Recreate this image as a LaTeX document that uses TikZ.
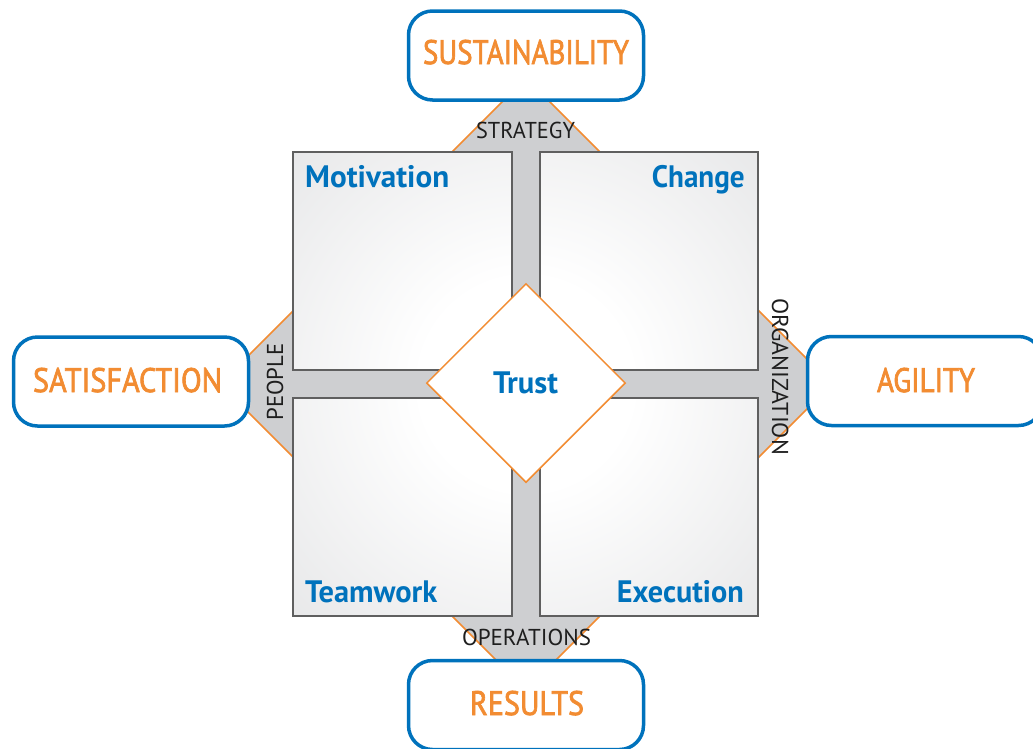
\documentclass[tikz,border=0pt]{standalone}
\usepackage{fontspec}
\usepackage{graphicx}
\setmainfont{PT Sans}
\newfontfamily\goalfont[FakeBold=2.2]{PT Sans}
\usetikzlibrary{shapes.geometric}
\definecolor{cblue}{RGB}{0,114,188}
\definecolor{corange}{RGB}{242,140,50}
\definecolor{bandgray}{RGB}{206,207,209}
\definecolor{sqgray}{RGB}{198,199,202}
\definecolor{sqedge}{RGB}{95,95,95}
\definecolor{txtdark}{RGB}{30,30,30}
\pgfdeclareradialshading{sqshade}{\pgfpoint{0bp}{0bp}}{color(0bp)=(white); color(8bp)=(white); color(50bp)=(sqgray)}
\newcommand{\fitw}[2]{\resizebox{#1pt}{\height}{#2}}
\tikzset{
  goalbox/.style={draw=cblue, line width=3.5pt, fill=white, rounded corners=24pt,
    minimum width=235pt, minimum height=89pt, inner sep=0pt},
  goaltext/.style={text=corange, font=\goalfont\fontsize{34}{34}\selectfont, inner sep=0pt, anchor=base},
  areatext/.style={text=cblue, font=\fontsize{31}{31}\selectfont\bfseries, inner sep=0pt},
  axistext/.style={text=txtdark, font=\fontsize{23}{23}\selectfont, inner sep=0pt, anchor=base},
  quad/.style={draw=sqedge, line width=1.6pt},
}
\begin{document}
\begin{tikzpicture}[x=1pt,y=-1pt]
\useasboundingbox (0,0) rectangle (1033,748);
% big background diamond
\coordinate (c) at (526,384);
\filldraw[fill=bandgray, draw=corange, line width=1.5pt]
  (526,78) -- (832,384) -- (526,690) -- (220,384) -- cycle;
% quadrant squares
\foreach \nm/\xa/\ya/\xb/\yb in {qtl/293/152/512/370, qtr/540/152/758/370, qbl/293/398/512/616, qbr/540/398/758/616}{
  \begin{scope}
    \clip (\xa,\ya) rectangle (\xb,\yb);
    \shade[shading=sqshade] (196,54) rectangle (856,714);
  \end{scope}
  \draw[quad] (\xa,\ya) rectangle (\xb,\yb);
  \coordinate (\nm) at (\xa,\ya);
}
% trust diamond
\node[diamond, aspect=1, draw=corange, line width=1.5pt, fill=white,
  minimum width=199pt, minimum height=199pt, inner sep=0pt] (trust) at (526,383) {};
\node[areatext, anchor=base] (trustlbl) at (525.5,393) {\fitw{65}{Trust}};
% goal boxes
\node[goalbox] (sust) at (526,55.5) {};
\node[goalbox] (sat) at (131,381.5) {};
\node[goalbox] (agil) at (925,381) {};
\node[goalbox] (res) at (526,705) {};
\node[goaltext] (sustlbl) at (526,64) {\fitw{206}{SUSTAINABILITY}};
\node[goaltext] (satlbl) at (127.5,392) {\fitw{189}{SATISFACTION}};
\node[goaltext] (aglbl) at (926,392) {\fitw{98}{AGILITY}};
\node[goaltext] (reslbl) at (527,715) {\fitw{114}{RESULTS}};
% area labels
\node[areatext, anchor=base west] (mot) at (305,187) {\fitw{144}{Motivation}};
\node[areatext, anchor=base east] (chg) at (745,187) {\fitw{93}{Change}};
\node[areatext, anchor=base west] (team) at (305,602) {\fitw{132}{Teamwork}};
\node[areatext, anchor=base east] (exe) at (744,602) {\fitw{127}{Execution}};
% axis labels
\node[axistext] (strat) at (525.5,138) {\fitw{99}{STRATEGY}};
\node[axistext] (oper) at (526.5,645) {\fitw{129}{OPERATIONS}};
\node[axistext, rotate=90] (people) at (283,382) {\fitw{77}{PEOPLE}};
\node[axistext, rotate=-90] (org) at (772,376.5) {\fitw{157}{ORGANIZATION}};
\end{tikzpicture}
\end{document}
